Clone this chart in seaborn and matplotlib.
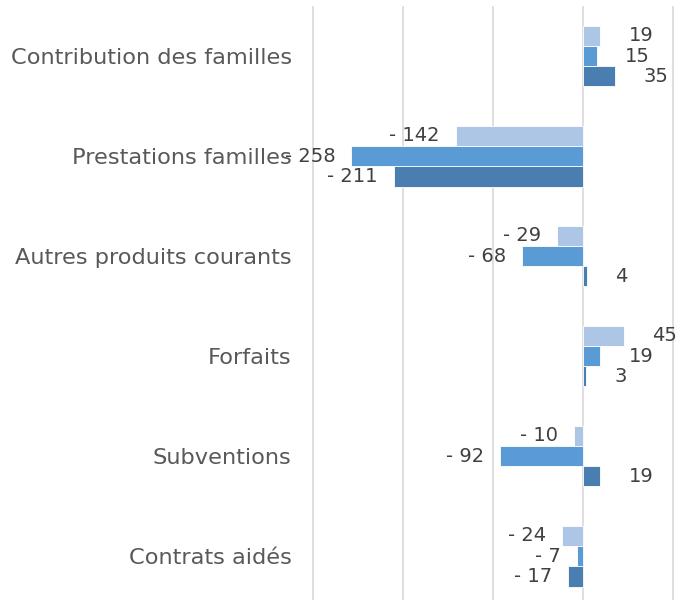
import matplotlib
matplotlib.use("Agg")
import matplotlib.pyplot as plt
import seaborn as sns
import pandas as pd

categories = ["Contribution des familles", "Prestations familles", "Autres produits courants",
              "Forfaits", "Subventions", "Contrats aidés"]
series_names = ["Série 1", "Série 2", "Série 3"]
serie1 = [19, -142, -29, 45, -10, -24]
serie2 = [15, -258, -68, 19, -92, -7]
serie3 = [35, -211, 4, 3, 19, -17]
colors = ["#adc6e6", "#5b9bd5", "#4a7eb0"]

rows = []
for name, vals in zip(series_names, [serie1, serie2, serie3]):
    for c, v in zip(categories, vals):
        rows.append({"cat": c, "serie": name, "val": v})
df = pd.DataFrame(rows)

sns.set_style("white")
plt.rcParams["font.family"] = ["DejaVu Sans"]

fig = plt.figure(figsize=(6.83, 6.0), dpi=100)
ax = fig.add_axes([300 / 683, -6 / 600, 383 / 683, 600 / 600])

sns.barplot(data=df, y="cat", x="val", hue="serie", order=categories, hue_order=series_names,
            palette=colors, orient="h", width=0.61, gap=0, ax=ax, legend=False,
            edgecolor="white", linewidth=0.6, saturation=1)

ax.set_xlim(-315, 111)
ax.set_ylim(5.5, -0.5)
ax.set_xticks([-300, -200, -100, 0, 100])
ax.set_xticklabels([])
ax.tick_params(axis="x", length=0)
ax.tick_params(axis="y", length=0, pad=6, labelsize=16.2, labelcolor="#595959")
ax.grid(axis="x", color="#d9d9d9", linewidth=1.2)
ax.set_axisbelow(True)
for s in ax.spines.values():
    s.set_visible(False)
ax.set_xlabel("")
ax.set_ylabel("")

for container in ax.containers:
    for bar in container:
        v = bar.get_width()
        yc = bar.get_y() + bar.get_height() / 2
        if v >= 0:
            txt = f"{v:.0f}"
            ax.annotate(txt, (v, yc), xytext=(20.5, 0), textcoords="offset points",
                        ha="left", va="center", fontsize=14, color="#404040")
        else:
            txt = f"- {abs(v):.0f}"
            ax.annotate(txt, (v, yc), xytext=(-11.5, 0), textcoords="offset points",
                        ha="right", va="center", fontsize=14, color="#404040")

fig.savefig("out.png", dpi=100)
